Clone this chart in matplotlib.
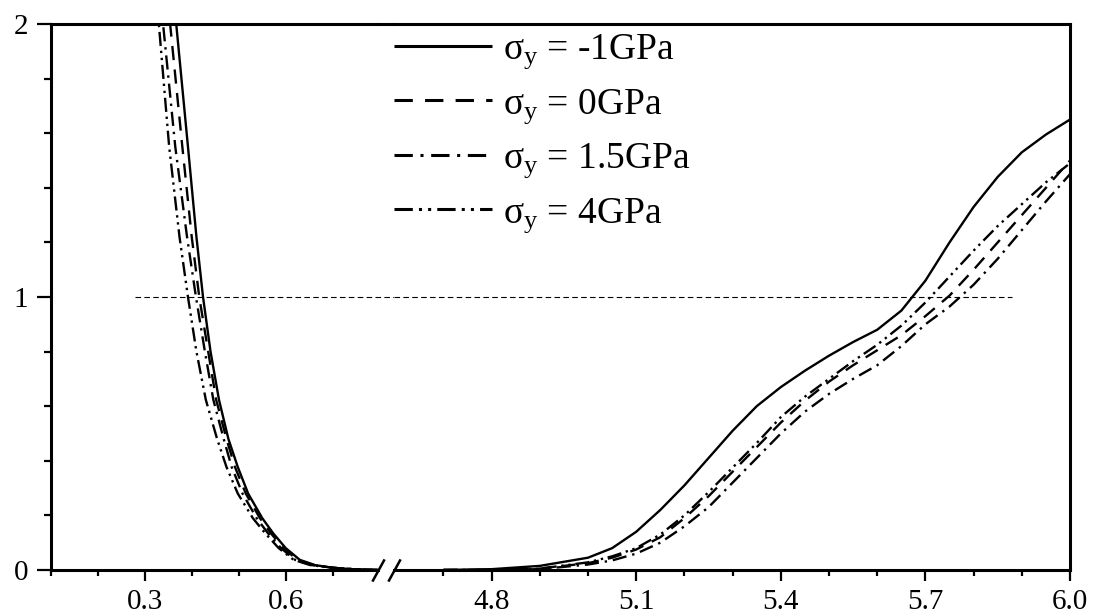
import matplotlib.pyplot as plt
from matplotlib.lines import Line2D
from matplotlib.ticker import FixedLocator

plt.rcParams['font.family'] = 'Liberation Serif'
plt.rcParams['mathtext.fontset'] = 'custom'
plt.rcParams['mathtext.rm'] = 'Liberation Serif'
plt.rcParams['mathtext.it'] = 'Liberation Serif:italic'

#########################################################################
##--------------------------- DATOS -----------------------------------##
#########################################################################
# Tramo izquierdo del eje x (0.1 - 0.8), mismos niveles de y para todas
y_izq = [2.12, 2.0, 1.55, 1.22, 1.0, 0.80, 0.623, 0.48, 0.377, 0.28,
         0.19, 0.135, 0.08, 0.037, 0.018, 0.008, 0.002, 0.0]
x_izq_m1 = [0.360, 0.367, 0.392, 0.410, 0.424, 0.440, 0.458, 0.478, 0.498, 0.520,
            0.550, 0.573, 0.600, 0.630, 0.662, 0.700, 0.750, 0.800]
x_izq_0 = [0.348, 0.354, 0.380, 0.400, 0.416, 0.435, 0.452, 0.474, 0.492, 0.515,
           0.545, 0.568, 0.595, 0.625, 0.660, 0.700, 0.750, 0.800]
x_izq_15 = [0.333, 0.339, 0.365, 0.390, 0.409, 0.428, 0.446, 0.468, 0.485, 0.508,
            0.538, 0.562, 0.590, 0.620, 0.655, 0.700, 0.750, 0.800]
x_izq_4 = [0.323, 0.330, 0.352, 0.374, 0.392, 0.410, 0.430, 0.454, 0.474, 0.498,
           0.530, 0.556, 0.585, 0.617, 0.652, 0.700, 0.750, 0.800]

# Tramo derecho del eje x (4.6 - 6.0)
x_der = [4.70, 4.80, 4.90, 5.00, 5.05, 5.10, 5.15, 5.20, 5.25, 5.30, 5.35, 5.40,
         5.45, 5.50, 5.55, 5.60, 5.65, 5.70, 5.75, 5.80, 5.85, 5.90, 5.95, 6.00]
y_der_m1 = [0.0, 0.003, 0.015, 0.045, 0.08, 0.14, 0.22, 0.31, 0.41, 0.51, 0.60, 0.67,
            0.73, 0.785, 0.835, 0.88, 0.95, 1.06, 1.20, 1.33, 1.44, 1.53, 1.595, 1.65]
y_der_0 = [0.0, 0.0, 0.005, 0.025, 0.045, 0.075, 0.12, 0.19, 0.27, 0.36, 0.45, 0.54,
           0.62, 0.69, 0.75, 0.805, 0.86, 0.93, 1.005, 1.10, 1.20, 1.30, 1.40, 1.50]
y_der_15 = [0.0, 0.0, 0.003, 0.02, 0.035, 0.06, 0.10, 0.16, 0.23, 0.32, 0.41, 0.50,
            0.58, 0.645, 0.70, 0.75, 0.82, 0.90, 0.965, 1.045, 1.14, 1.245, 1.35, 1.45]
y_der_4 = [0.0, 0.0, 0.005, 0.028, 0.05, 0.08, 0.13, 0.20, 0.285, 0.375, 0.465, 0.56,
           0.635, 0.70, 0.765, 0.825, 0.895, 0.98, 1.075, 1.17, 1.26, 1.34, 1.42, 1.49]

etiquetas = ['σ$_{\\mathrm{y}}$ = -1GPa', 'σ$_{\\mathrm{y}}$ = 0GPa',
             'σ$_{\\mathrm{y}}$ = 1.5GPa', 'σ$_{\\mathrm{y}}$ = 4GPa']

# estilos de linea
estilos = [(0, ()), (0, (6, 4)), (0, (6, 2.5, 1, 2.5)), (0, (6, 2, 1, 2, 1, 2))]

#########################################################################
##--------------------------- GRAFICA ---------------------------------##
#########################################################################
fig = plt.figure(figsize=(10.93, 6.16), dpi=100)
ax1 = fig.add_axes([0.0464, 0.0747, 0.2995, 0.8864])
ax2 = fig.add_axes([0.3605, 0.0747, 0.6185, 0.8864])

xs_izq = [x_izq_m1, x_izq_0, x_izq_15, x_izq_4]
ys_der = [y_der_m1, y_der_0, y_der_15, y_der_4]
for i in range(0, 4):
    ax1.plot(xs_izq[i], y_izq, color='k', lw=1.7, linestyle=estilos[i])
    ax2.plot(x_der, ys_der[i], color='k', lw=1.7, linestyle=estilos[i], label=etiquetas[i])

# linea horizontal en y=1
ax1.plot([0.279, 0.83], [1, 1], color='k', lw=0.8, linestyle=(0, (5, 3)), clip_on=False)
ax2.plot([4.5975, 5.88], [1, 1], color='k', lw=0.8, linestyle=(0, (5, 3)))

ax1.set_xlim(0.1, 0.7964)
ax2.set_xlim(4.5975, 6.0)
for ax in [ax1, ax2]:
    ax.set_ylim(0, 2)
    for s in ax.spines.values():
        s.set_linewidth(2.2)
    ax.tick_params(axis='x', which='major', direction='out', length=8, width=1.6,
                   labelsize=21, pad=6)
    ax.tick_params(axis='x', which='minor', direction='out', length=4.3, width=1.6)

ax1.spines['right'].set_visible(False)
ax2.spines['left'].set_visible(False)

ax1.xaxis.set_major_locator(FixedLocator([0.3, 0.6]))
ax1.xaxis.set_minor_locator(FixedLocator([0.1, 0.2, 0.4, 0.5, 0.7]))
ax2.xaxis.set_major_locator(FixedLocator([4.8, 5.1, 5.4, 5.7, 6.0]))
ax2.xaxis.set_minor_locator(FixedLocator([4.7, 4.9, 5.0, 5.2, 5.3, 5.5, 5.6, 5.8, 5.9]))

ax1.yaxis.set_major_locator(FixedLocator([0, 1, 2]))
ax1.yaxis.set_minor_locator(FixedLocator([0.2, 0.4, 0.6, 0.8, 1.2, 1.4, 1.6, 1.8]))
ax1.tick_params(axis='y', which='major', direction='out', length=10, width=1.6,
                labelsize=21, pad=6)
ax1.tick_params(axis='y', which='minor', direction='out', length=5, width=1.6)
ax2.tick_params(axis='y', which='both', left=False, right=False, labelleft=False)

# marcas del corte del eje
corte = dict(marker=[(-0.55, -1), (0.55, 1)], markersize=16, linestyle='none',
             color='k', mec='k', mew=1.8, clip_on=False)
ax1.plot([1], [0], transform=ax1.transAxes, **corte)
ax2.plot([0], [0], transform=ax2.transAxes, **corte)

# borde superior continuo
p1 = ax1.get_position()
p2 = ax2.get_position()
fig.add_artist(Line2D([p1.x1, p2.x0], [p1.y1, p1.y1], transform=fig.transFigure,
                      color='k', lw=2.2))

ley = ax2.legend(loc='upper left', bbox_to_anchor=(0.0, 0.985), frameon=False, fontsize=27,
                 handlelength=2.6, handletextpad=0.3, labelspacing=0.42, borderaxespad=0,
                 borderpad=0)
for h in ley.get_lines():
    h.set_linewidth(2.2)

plt.savefig('out.png', dpi=100)
